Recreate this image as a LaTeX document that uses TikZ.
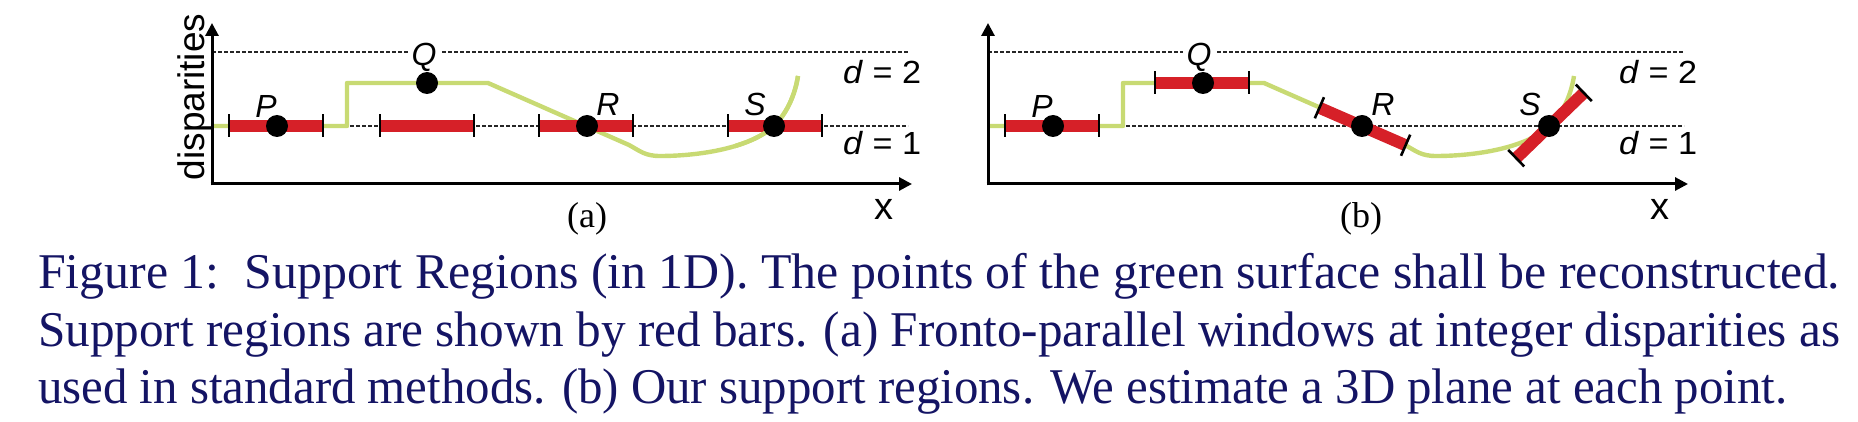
\documentclass[tikz,border=0pt]{standalone}
\usepackage{graphicx}
\usepackage{fontspec}
\setmainfont{Liberation Serif}
\setsansfont{Liberation Sans}
\usetikzlibrary{arrows.meta}
\definecolor{surf}{RGB}{200,218,115}
\definecolor{barred}{RGB}{214,32,40}
\definecolor{capblue}{RGB}{20,20,100}
\newcommand{\fs}[1]{\fontsize{#1}{#1}\selectfont}
\newcommand{\dtext}[1]{\resizebox{78pt}{\height}{\textit{d} = #1}}
\tikzset{
  axisline/.style={line width=3pt, -{Triangle[length=13pt,width=13pt]}},
  level/.style={line width=1.5pt, dash pattern=on 4pt off 2pt, black!85},
  surface/.style={line width=4.4pt, surf, line join=round},
  supbar/.style={line width=12pt, barred},
  tickmark/.style={line width=2.6pt, black},
  dot/.style={circle, fill=black, minimum size=22pt, inner sep=0pt},
  ptlabel/.style={font=\sffamily\itshape\fs{32}, inner sep=0pt},
  dlabel/.style={font=\sffamily\fs{32}, inner sep=0pt, anchor=base west},
  xlabel/.style={font=\sffamily\fs{38}, inner sep=0pt},
  sublabel/.style={font=\rmfamily\fs{36}, inner sep=0pt},
  capline/.style={font=\rmfamily\fs{50}, text=capblue, inner sep=0pt, anchor=base west},
}
\newcommand{\supbarat}[3]{%
  \begin{scope}[shift={(#1,#2)}, rotate=#3]
    \draw[supbar] (-47,0) -- (47,0);
    \draw[tickmark] (-47,-11.5) -- (-47,11.5);
    \draw[tickmark] (47,-11.5) -- (47,11.5);
  \end{scope}}
\begin{document}
\begin{tikzpicture}[x=1pt, y=-1pt]
\useasboundingbox (0,0) rectangle (1858,422);
% ---------------- panel (a) ----------------
\coordinate (Oa) at (212,184);
\coordinate (Ya) at (212,23);
\coordinate (Xa) at (912,184);
\draw[level] (212,52) -- (408,52);
\draw[level] (442,52) -- (908,52);
\draw[level] (212,126) -- (908,126);
\draw[surface] (213,126) -- (347,126) -- (347,83) -- (488,83) -- (629,145)
  .. controls (640,151) and (645,156) .. (660,156)
  .. controls (700,156) and (750,148) .. (774,126)
  .. controls (787,113) and (795,95) .. (798,76);
\draw[axisline] ([yshift=-1.5pt]Oa) -- (Ya);
\draw[axisline] ([xshift=-1.5pt]Oa) -- (Xa);
\supbarat{276}{126}{0}
\supbarat{427}{126}{0}
\supbarat{586}{126}{0}
\supbarat{775}{126}{0}
\begin{scope}
  \clip (735,60) rectangle (830,170);
  \draw[surface] (660,156)
  .. controls (700,156) and (750,148) .. (774,126)
  .. controls (787,113) and (795,95) .. (798,76);
\end{scope}
\node[ptlabel] (Pla) at (266,106) {P};
\node[ptlabel] (Qla) at (424,57) {Q};
\node[ptlabel] (Rla) at (608,104) {R};
\node[ptlabel] (Sla) at (755,104) {S};
\node[dot] (Pa) at (277,126) {};
\node[dot] (Qa) at (427,83) {};
\node[dot] (Ra) at (587,126) {};
\node[dot] (Sa) at (774,126) {};
\node[dlabel] (d2a) at (843,84) {\dtext{2}};
\node[dlabel] (d1a) at (843,155) {\dtext{1}};
\node[font=\sffamily\fs{37}, inner sep=0pt, rotate=90, anchor=base] (disp) at (204,97) {disparities};
\node[xlabel] (xa) at (884,209) {x};
\node[sublabel] (suba) at (587,219) {(a)};
% ---------------- panel (b) ----------------
\coordinate (Ob) at (988,184);
\coordinate (Yb) at (988,23);
\coordinate (Xb) at (1688,184);
\draw[level] (988,52) -- (1183,52);
\draw[level] (1217,52) -- (1684,52);
\draw[level] (988,126) -- (1684,126);
\draw[surface] (989,126) -- (1123,126) -- (1123,83) -- (1264,83) -- (1405,145)
  .. controls (1416,151) and (1421,156) .. (1436,156)
  .. controls (1476,156) and (1526,148) .. (1550,126)
  .. controls (1563,113) and (1571,95) .. (1574,76);
\draw[axisline] ([yshift=-1.5pt]Ob) -- (Yb);
\draw[axisline] ([xshift=-1.5pt]Ob) -- (Xb);
\supbarat{1052}{126}{0}
\supbarat{1202}{83}{0}
\supbarat{1362.5}{126.5}{-23.5}
\supbarat{1550}{125.5}{44}
\node[ptlabel] (Plb) at (1042,106) {P};
\node[ptlabel] (Qlb) at (1199,57) {Q};
\node[ptlabel] (Rlb) at (1383,104) {R};
\node[ptlabel] (Slb) at (1530,104) {S};
\node[dot] (Pb) at (1053,126) {};
\node[dot] (Qb) at (1203,83) {};
\node[dot] (Rb) at (1362,126) {};
\node[dot] (Sb) at (1549,126) {};
\node[dlabel] (d2b) at (1619,84) {\dtext{2}};
\node[dlabel] (d1b) at (1619,155) {\dtext{1}};
\node[xlabel] (xb) at (1660,209) {x};
\node[sublabel] (subb) at (1361,219) {(b)};
% ---------------- caption ----------------
\node[capline] (cap1) at (38,288) {\resizebox{1802pt}{\height}{Figure 1:\ \ Support Regions (in 1D). The points of the green surface shall be reconstructed.}};
\node[capline] (cap2) at (38,346) {\resizebox{1802pt}{\height}{Support regions are shown by red bars. (a) Fronto-parallel windows at integer disparities as}};
\node[capline] (cap3) at (38,403) {\resizebox{1749pt}{\height}{used in standard methods. (b) Our support regions. We estimate a 3D plane at each point.}};
\end{tikzpicture}
\end{document}
